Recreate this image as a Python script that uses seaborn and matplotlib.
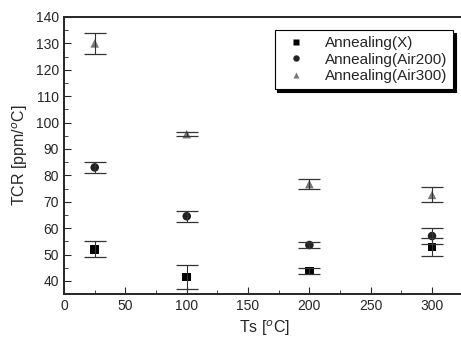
import numpy as np
import pandas as pd
import matplotlib
matplotlib.use('Agg')
import matplotlib.pyplot as plt
import seaborn as sns
from matplotlib.ticker import MultipleLocator

ts = [25, 100, 200, 300]
tcr_x = [52, 41.5, 43.8, 52.8]
err_x = [3, 4.5, 1, 3.3]
tcr_air200 = [83, 64.5, 53.6, 57]
err_air200 = [2, 2, 1, 3]
tcr_air300 = [130, 95.6, 76.7, 72.6]
err_air300 = [4, 0.7, 1.8, 2.8]
labels = ['Annealing(X)', 'Annealing(Air200)', 'Annealing(Air300)']

df = pd.DataFrame({
    'Ts': ts * 3,
    'TCR': tcr_x + tcr_air200 + tcr_air300,
    'err': err_x + err_air200 + err_air300,
    'group': [labels[0]] * 4 + [labels[1]] * 4 + [labels[2]] * 4,
})

sns.set_style('ticks')
plt.rcParams['font.family'] = ['Liberation Sans', 'DejaVu Sans']

fig = plt.figure(figsize=(4.61, 3.40), dpi=100)
ax = fig.add_axes([0.139, 0.135, 0.87, 0.815])

markers = {labels[0]: 's', labels[1]: 'o', labels[2]: '^'}
colors = {labels[0]: 'black', labels[1]: '#222222', labels[2]: '#777777'}
for g in labels:
    sub = df[df['group'] == g]
    ax.errorbar(sub['Ts'], sub['TCR'], yerr=sub['err'], fmt='none',
                ecolor='#333333', elinewidth=0.8, capsize=8, capthick=0.9)
sns.scatterplot(data=df, x='Ts', y='TCR', hue='group', style='group',
                markers=markers, palette=colors, s=38, edgecolor='none',
                ax=ax, legend=True)

ax.set_xlim(0, 327)
ax.set_ylim(35, 140)
ax.set_xticks([0, 50, 100, 150, 200, 250, 300])
ax.xaxis.set_minor_locator(MultipleLocator(25))
ax.set_yticks(np.arange(40, 141, 10))
ax.yaxis.set_minor_locator(MultipleLocator(5))
ax.tick_params(which='both', direction='in', labelsize=10)
ax.tick_params(which='major', length=5)
ax.tick_params(which='minor', length=3)
for s in ax.spines.values():
    s.set_linewidth(1.4)
ax.set_xlabel('Ts [$^o$C]', fontsize=11.5)
ax.set_ylabel('TCR [ppm/$^o$C]', fontsize=11.5)

leg = ax.legend(loc='upper right', bbox_to_anchor=(0.99, 0.98), fontsize=11,
                frameon=True, fancybox=False,
                shadow={'color': 'black', 'alpha': 1, 'ox': 2, 'oy': -2},
                edgecolor='black', handletextpad=0.9, borderpad=0.4,
                labelspacing=0.15, markerscale=0.75)
leg.get_frame().set_linewidth(0.8)

fig.savefig('out.png', dpi=100)
